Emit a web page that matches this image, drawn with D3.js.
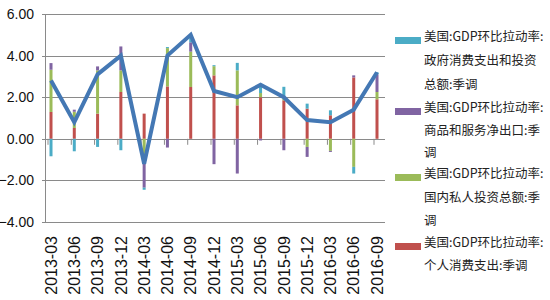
<!DOCTYPE html>
<html>
<head>
<meta charset="utf-8">
<script src="https://cdn.jsdelivr.net/npm/d3@7"></script>
<style>
  body { margin: 0; background: #fff; }
  text { font-family: "Liberation Sans", Arial, sans-serif; }
  .legend text { font-family: "Noto Sans CJK SC", sans-serif; }
</style>
</head>
<body>
<script>
// quarters on the x axis
var categories = ["2013-03","2013-06","2013-09","2013-12","2014-03","2014-06","2014-09",
                  "2014-12","2015-03","2015-06","2015-09","2015-12","2016-03","2016-06","2016-09"];

// contributions to GDP growth (percentage points)
var govValues    = [-0.84,-0.60,-0.39,-0.55,-0.10, 0.05, 0.36, 0.05, 0.36, 0.40, 0.55, 0.24, 0.24,-0.32, 0.10];
var netExpValues = [ 0.32, 0.10, 0.19, 1.15,-1.60,-0.42, 0.45,-1.22,-1.67,-0.08,-0.55,-0.48,-0.05, 0.10, 0.85];
var investValues = [ 2.03, 0.78, 2.08, 1.04,-0.75, 1.84, 1.70, 0.44, 1.68, 0.20, 0.10,-0.39,-0.58,-1.35, 0.35];
var consumValues = [ 1.29, 0.52, 1.21, 2.25, 1.21, 2.52, 2.49, 3.05, 1.61, 2.00, 1.85, 1.45, 1.13, 2.95, 1.90];

// GDP q/q annualised, the blue line
var gdpValues = [2.8, 0.8, 3.1, 4.0, -1.2, 4.0, 5.0, 2.3, 2.0, 2.6, 2.0, 0.9, 0.8, 1.4, 3.2];

var yTicks = [-4, -2, 0, 2, 4, 6];

// legend entries, top to bottom (each one wraps over a few lines)
var legendLines = [
  ["美国:GDP环比拉动率:", "政府消费支出和投资", "总额:季调"],
  ["美国:GDP环比拉动率:", "商品和服务净出口:季", "调"],
  ["美国:GDP环比拉动率:", "国内私人投资总额:季", "调"],
  ["美国:GDP环比拉动率:", "个人消费支出:季调"]
];
var seriesColors = ["#4bacc6", "#8064a2", "#9bbb59", "#c0504d"];

window.onload = function () {
  var w = 550, h = 300;

  var svg = d3.select("body").append("svg")
      .attr("width", w)
      .attr("height", h);

  var x = d3.scalePoint().domain(categories).range([51, 377]);
  var y = d3.scaleLinear().domain([-4, 6]).range([222, 14]);

  // table for the stack: bottom series first
  var keys = ["consum", "invest", "netExp", "gov"];
  var table = categories.map(function (c, i) {
    return { cat: c, consum: consumValues[i], invest: investValues[i],
             netExp: netExpValues[i], gov: govValues[i] };
  });
  var stacked = d3.stack().keys(keys).offset(d3.stackOffsetDiverging)(table);
  var keyColor = { consum: seriesColors[3], invest: seriesColors[2],
                   netExp: seriesColors[1], gov: seriesColors[0] };

  // gridlines
  svg.append("g").selectAll("line")
      .data(yTicks)
      .enter().append("line")
      .attr("x1", 42).attr("x2", 385)
      .attr("y1", function (d) { return Math.round(y(d)) + 0.5; })
      .attr("y2", function (d) { return Math.round(y(d)) + 0.5; })
      .style("stroke", "#8a8a8a")
      .style("stroke-width", 1);

  // y axis line
  svg.append("line")
      .attr("x1", 45.5).attr("x2", 45.5)
      .attr("y1", y(6)).attr("y2", y(-4))
      .style("stroke", "#8a8a8a");

  // y labels
  svg.append("g").selectAll("text")
      .data(yTicks)
      .enter().append("text")
      .attr("x", 34)
      .attr("y", function (d) { return y(d); })
      .attr("dy", "0.36em")
      .attr("text-anchor", "end")
      .style("font-size", "14px")
      .style("fill", "#111")
      .text(function (d) { return d3.format(".2f")(d); });

  // small tick marks under the zero line
  svg.append("g").selectAll("line")
      .data(categories)
      .enter().append("line")
      .attr("x1", function (d) { return x(d) - 3; })
      .attr("x2", function (d) { return x(d) - 3; })
      .attr("y1", y(0)).attr("y2", y(0) + 6)
      .style("stroke", "#8a8a8a");

  // stacked bars
  var barW = 3;
  svg.append("g").selectAll("g")
      .data(stacked)
      .enter().append("g")
      .style("fill", function (s) { return keyColor[s.key]; })
      .selectAll("rect")
      .data(function (s) { return s; })
      .enter().append("rect")
      .attr("x", function (d) { return x(d.data.cat) - barW / 2; })
      .attr("width", barW)
      .attr("y", function (d) { return y(Math.max(d[0], d[1])); })
      .attr("height", function (d) { return Math.abs(y(d[0]) - y(d[1])); });

  // GDP line
  var line = d3.line()
      .x(function (d, i) { return x(categories[i]); })
      .y(function (d) { return y(d); });

  svg.append("path")
      .datum(gdpValues)
      .attr("d", line)
      .style("fill", "none")
      .style("stroke", "#4478b4")
      .style("stroke-width", 4)
      .style("stroke-linejoin", "miter");

  // x labels, rotated
  svg.append("g").selectAll("text")
      .data(categories)
      .enter().append("text")
      .attr("transform", function (d) { return "translate(" + x(d) + ",236) rotate(-90)"; })
      .attr("dy", "0.36em")
      .attr("text-anchor", "end")
      .style("font-size", "16px")
      .style("fill", "#111")
      .text(function (d) { return d; });

  // legend
  var lineY = [[36, 60, 84], [107, 130, 152], [173, 197, 220], [242, 265]];
  var legend = svg.append("g").attr("class", "legend");
  legendLines.forEach(function (lines, i) {
    legend.append("rect")
        .attr("x", 395).attr("width", 26)
        .attr("y", lineY[i][0] + 1).attr("height", 7)
        .style("fill", seriesColors[i]);
    lines.forEach(function (t, j) {
      legend.append("text")
          .attr("x", 424)
          .attr("y", lineY[i][j])
          .attr("dy", "0.36em")
          .style("font-size", "12.5px")
          .style("fill", "#222")
          .text(t);
    });
  });
};
</script>
</body>
</html>
